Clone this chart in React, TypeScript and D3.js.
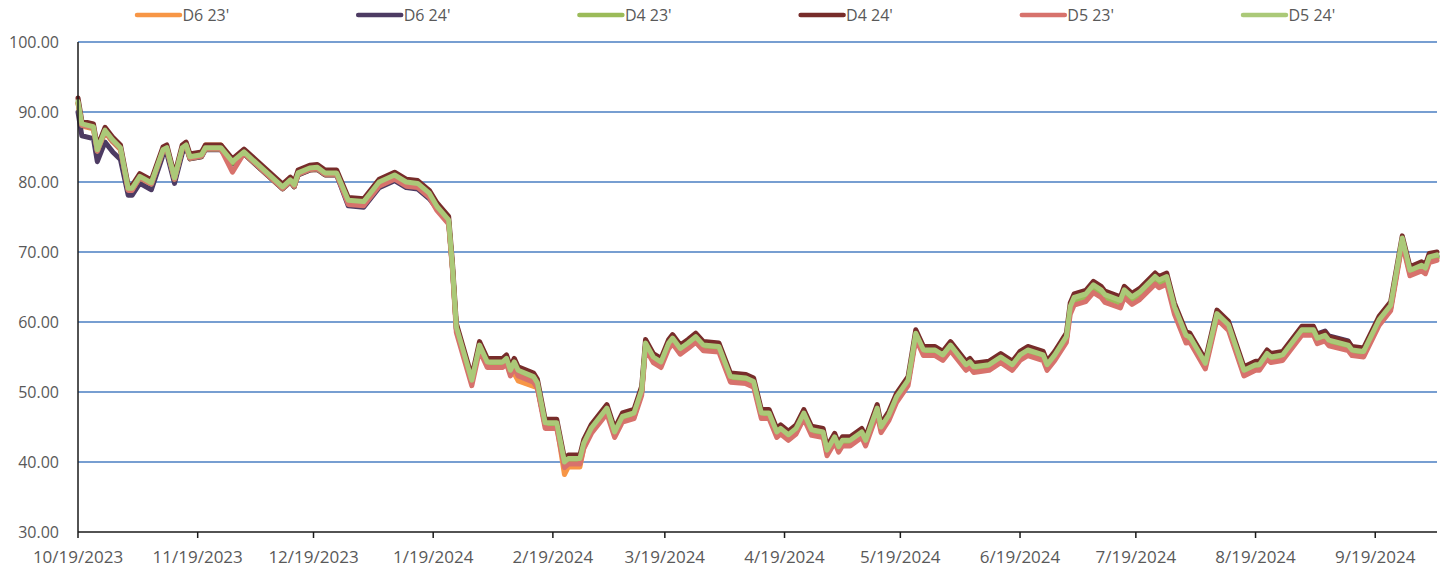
import React from 'react';
import * as d3 from 'd3';

// trading dates
const dates = [
  '2023-10-19', '2023-10-20', '2023-10-23', '2023-10-24', '2023-10-26', '2023-10-28', '2023-10-30', '2023-11-01', '2023-11-02', '2023-11-04',
  '2023-11-07', '2023-11-10', '2023-11-11', '2023-11-13', '2023-11-15', '2023-11-16', '2023-11-17', '2023-11-20', '2023-11-21', '2023-11-25',
  '2023-11-28', '2023-12-01', '2023-12-11', '2023-12-13', '2023-12-14', '2023-12-15', '2023-12-18', '2023-12-20', '2023-12-22', '2023-12-25',
  '2023-12-28', '2024-01-01', '2024-01-05', '2024-01-09', '2024-01-12', '2024-01-15', '2024-01-18', '2024-01-20', '2024-01-23', '2024-01-24',
  '2024-01-25', '2024-01-29', '2024-01-31', '2024-02-02', '2024-02-06', '2024-02-07', '2024-02-08', '2024-02-09', '2024-02-10', '2024-02-14',
  '2024-02-15', '2024-02-17', '2024-02-20', '2024-02-22', '2024-02-23', '2024-02-26', '2024-02-27', '2024-02-29', '2024-03-04', '2024-03-06',
  '2024-03-08', '2024-03-11', '2024-03-13', '2024-03-14', '2024-03-16', '2024-03-18', '2024-03-20', '2024-03-21', '2024-03-23', '2024-03-25',
  '2024-03-27', '2024-03-29', '2024-04-02', '2024-04-05', '2024-04-09', '2024-04-11', '2024-04-13', '2024-04-15', '2024-04-17', '2024-04-18',
  '2024-04-20', '2024-04-22', '2024-04-24', '2024-04-26', '2024-04-29', '2024-04-30', '2024-05-02', '2024-05-03', '2024-05-04', '2024-05-06',
  '2024-05-09', '2024-05-10', '2024-05-13', '2024-05-14', '2024-05-16', '2024-05-18', '2024-05-21', '2024-05-22', '2024-05-23', '2024-05-25',
  '2024-05-28', '2024-05-30', '2024-06-01', '2024-06-05', '2024-06-06', '2024-06-07', '2024-06-11', '2024-06-14', '2024-06-17', '2024-06-19',
  '2024-06-21', '2024-06-25', '2024-06-26', '2024-06-28', '2024-07-01', '2024-07-02', '2024-07-03', '2024-07-06', '2024-07-08', '2024-07-10',
  '2024-07-11', '2024-07-15', '2024-07-16', '2024-07-18', '2024-07-20', '2024-07-24', '2024-07-25', '2024-07-27', '2024-07-29', '2024-08-01',
  '2024-08-02', '2024-08-06', '2024-08-09', '2024-08-12', '2024-08-16', '2024-08-19', '2024-08-20', '2024-08-22', '2024-08-23', '2024-08-26',
  '2024-08-31', '2024-09-03', '2024-09-04', '2024-09-06', '2024-09-07', '2024-09-12', '2024-09-13', '2024-09-16', '2024-09-20', '2024-09-23',
  '2024-09-26', '2024-09-28', '2024-10-01', '2024-10-02', '2024-10-03', '2024-10-05',
];

const d6_23 = [
  91.2, 88.0, 87.6, 84.3, 87.1, 85.7, 84.6, 78.8, 78.8, 80.5,
  79.6, 84.3, 84.6, 80.3, 84.6, 85.0, 83.3, 83.6, 85.3, 85.3,
  82.6, 84.0, 79.0, 80.0, 79.3, 81.0, 81.7, 81.8, 81.0, 81.0,
  77.1, 76.9, 79.7, 80.7, 79.7, 79.5, 78.1, 76.2, 74.3, 67.6,
  59.0, 51.4, 56.4, 54.0, 54.0, 54.5, 52.8, 52.6, 51.6, 50.8,
  50.6, 45.3, 45.3, 38.2, 39.3, 39.3, 42.0, 44.4, 47.4, 44.0,
  46.2, 46.7, 50.0, 56.7, 54.7, 54.0, 56.7, 57.4, 55.9, 56.7,
  57.6, 56.4, 56.2, 51.9, 51.7, 51.2, 46.7, 46.7, 44.0, 44.5,
  43.6, 44.5, 46.7, 44.3, 44.0, 41.4, 43.3, 41.9, 42.6, 42.6,
  43.8, 42.7, 47.4, 44.7, 46.4, 49.0, 51.4, 54.7, 58.1, 55.6,
  55.6, 54.9, 56.3, 53.5, 53.9, 53.2, 53.5, 54.6, 53.5, 54.9,
  55.6, 54.9, 53.5, 54.9, 57.5, 61.8, 63.1, 63.6, 64.9, 64.2,
  63.5, 62.7, 64.2, 63.2, 63.9, 66.1, 65.6, 66.1, 61.8, 57.7,
  57.5, 53.7, 60.8, 59.2, 52.6, 53.3, 53.3, 54.9, 54.4, 54.7,
  58.3, 58.3, 57.1, 57.5, 56.8, 56.1, 55.4, 55.2, 59.8, 61.9,
  71.5, 66.9, 67.6, 67.2, 68.8, 69.1,
];

const d6_24 = [
  90.0, 86.6, 86.2, 82.9, 85.7, 84.3, 83.2, 78.1, 78.1, 79.8,
  78.9, 83.8, 84.1, 79.8, 84.1, 85.0, 83.3, 83.6, 84.6, 84.6,
  82.6, 84.0, 79.0, 80.0, 79.3, 81.0, 81.7, 81.8, 81.0, 81.0,
  76.6, 76.4, 79.2, 80.2, 79.2, 79.0, 77.6, 76.2, 74.3, 67.6,
  59.0, 51.4, 56.4, 54.0, 54.0, 54.5, 52.8, 54.0, 52.5, 51.6,
  50.7, 45.3, 45.3, 39.7, 40.2, 40.2, 42.4, 44.6, 47.4, 44.0,
  45.9, 46.4, 50.0, 56.7, 54.7, 54.0, 56.7, 57.4, 55.9, 56.7,
  57.6, 56.4, 56.2, 51.9, 51.7, 51.2, 46.7, 46.7, 44.0, 44.5,
  43.6, 44.5, 46.7, 44.3, 44.0, 41.4, 43.3, 41.9, 42.8, 42.8,
  44.0, 42.8, 47.4, 44.7, 46.4, 49.0, 51.4, 54.7, 58.1, 55.7,
  55.7, 55.0, 56.4, 53.6, 54.0, 53.3, 53.6, 54.7, 53.6, 55.0,
  55.7, 55.0, 53.6, 55.0, 57.6, 61.9, 63.2, 63.7, 65.0, 64.3,
  63.6, 62.8, 64.3, 63.3, 64.0, 66.2, 65.7, 66.2, 61.9, 57.8,
  57.6, 53.8, 60.9, 59.3, 52.8, 53.6, 53.6, 55.2, 54.7, 55.0,
  58.6, 58.6, 58.3, 58.7, 58.0, 57.3, 56.3, 55.5, 60.0, 62.1,
  71.7, 67.1, 67.8, 67.4, 69.0, 69.4,
];

const d4_23 = [
  91.3, 88.1, 87.7, 84.4, 87.2, 85.8, 84.7, 78.9, 78.9, 80.6,
  79.7, 84.4, 84.7, 80.4, 84.7, 85.1, 83.4, 83.7, 84.7, 84.7,
  82.7, 84.1, 79.1, 80.1, 79.4, 81.1, 81.8, 81.9, 81.1, 81.1,
  77.2, 77.0, 79.8, 80.8, 79.8, 79.6, 78.2, 76.3, 74.4, 67.7,
  59.1, 51.5, 56.5, 54.1, 54.1, 54.6, 52.9, 54.1, 52.9, 52.0,
  50.9, 45.2, 45.2, 39.6, 40.1, 40.1, 42.3, 44.5, 47.3, 43.9,
  46.1, 46.6, 49.9, 56.6, 54.6, 53.9, 56.6, 57.3, 55.8, 56.6,
  57.5, 56.3, 56.1, 51.8, 51.6, 51.1, 46.6, 46.6, 43.9, 44.4,
  43.5, 44.4, 46.6, 44.2, 43.9, 41.3, 43.2, 41.8, 42.7, 42.7,
  43.9, 42.7, 47.3, 44.6, 46.3, 48.9, 51.3, 54.6, 58.0, 55.6,
  55.6, 54.9, 56.3, 53.5, 53.9, 53.2, 53.5, 54.6, 53.5, 54.9,
  55.6, 54.9, 53.5, 54.9, 57.5, 61.8, 63.1, 63.6, 64.9, 64.2,
  63.5, 62.7, 64.2, 63.2, 63.9, 66.1, 65.6, 66.1, 61.8, 57.7,
  57.5, 53.7, 60.8, 59.2, 52.7, 53.5, 53.5, 55.1, 54.6, 54.9,
  58.5, 58.5, 57.3, 57.7, 57.0, 56.3, 55.6, 55.4, 59.9, 62.0,
  71.6, 67.0, 67.7, 67.3, 68.9, 69.2,
];

const d4_24 = [
  92.0, 88.7, 88.3, 85.0, 87.8, 86.4, 85.3, 79.5, 79.5, 81.2,
  80.3, 85.0, 85.3, 81.0, 85.3, 85.7, 84.0, 84.3, 85.3, 85.3,
  83.3, 84.7, 79.7, 80.7, 80.0, 81.7, 82.4, 82.5, 81.7, 81.7,
  77.8, 77.6, 80.4, 81.4, 80.4, 80.2, 78.8, 77.0, 75.1, 68.4,
  59.8, 52.2, 57.2, 54.8, 54.8, 55.3, 53.6, 54.8, 53.6, 52.7,
  51.8, 46.1, 46.1, 40.5, 41.0, 41.0, 43.2, 45.4, 48.2, 44.8,
  47.0, 47.5, 50.8, 57.5, 55.5, 54.8, 57.5, 58.2, 56.7, 57.5,
  58.4, 57.2, 57.0, 52.7, 52.5, 52.0, 47.5, 47.5, 44.8, 45.3,
  44.4, 45.3, 47.5, 45.1, 44.8, 42.2, 44.1, 42.7, 43.6, 43.6,
  44.8, 43.6, 48.2, 45.5, 47.2, 49.8, 52.2, 55.5, 58.9, 56.5,
  56.5, 55.8, 57.2, 54.4, 54.8, 54.1, 54.4, 55.5, 54.4, 55.8,
  56.5, 55.8, 54.4, 55.8, 58.4, 62.7, 64.0, 64.5, 65.8, 65.1,
  64.4, 63.6, 65.1, 64.1, 64.8, 67.0, 66.5, 67.0, 62.7, 58.6,
  58.4, 54.6, 61.7, 60.1, 53.6, 54.4, 54.4, 56.0, 55.5, 55.8,
  59.4, 59.4, 58.2, 58.6, 57.9, 57.2, 56.5, 56.3, 60.8, 62.9,
  72.3, 67.9, 68.6, 68.2, 69.8, 70.0,
];

const d5_23 = [
  91.3, 88.1, 87.7, 84.4, 87.2, 85.8, 84.7, 78.8, 78.8, 80.6,
  79.7, 84.4, 84.7, 80.4, 84.7, 85.1, 83.4, 83.7, 84.7, 84.7,
  81.4, 84.1, 79.1, 80.1, 79.4, 81.1, 81.8, 81.9, 81.1, 81.1,
  76.8, 76.6, 79.4, 80.4, 79.4, 79.2, 77.8, 75.9, 74.0, 67.3,
  58.5, 50.9, 55.9, 53.5, 53.5, 54.0, 52.3, 53.5, 52.3, 51.4,
  50.5, 44.8, 44.8, 39.2, 39.7, 39.7, 41.9, 44.1, 46.9, 43.5,
  45.7, 46.2, 49.5, 56.2, 54.2, 53.5, 56.2, 56.9, 55.4, 56.2,
  57.1, 55.9, 55.7, 51.4, 51.2, 50.7, 46.2, 46.2, 43.5, 44.0,
  43.1, 44.0, 46.2, 43.8, 43.5, 40.9, 42.8, 41.4, 42.3, 42.3,
  43.5, 42.3, 46.9, 44.2, 45.9, 48.5, 50.9, 54.2, 57.6, 55.2,
  55.2, 54.5, 55.9, 53.1, 53.5, 52.8, 53.1, 54.2, 53.1, 54.5,
  55.2, 54.5, 53.1, 54.5, 57.1, 61.1, 62.4, 62.9, 64.2, 63.5,
  62.8, 62.0, 63.5, 62.5, 63.2, 65.4, 64.9, 65.4, 61.1, 57.0,
  57.1, 53.3, 60.4, 58.8, 52.3, 53.1, 53.1, 54.7, 54.2, 54.5,
  58.1, 58.1, 56.9, 57.3, 56.6, 55.9, 55.2, 55.0, 59.5, 61.6,
  71.2, 66.6, 67.3, 66.9, 68.5, 68.8,
];

const d5_24 = [
  91.5, 88.3, 87.9, 84.6, 87.4, 86.0, 84.9, 79.1, 79.1, 80.8,
  79.9, 84.6, 84.9, 80.6, 84.9, 85.3, 83.6, 83.9, 84.9, 84.9,
  82.9, 84.3, 79.3, 80.3, 79.6, 81.3, 82.0, 82.1, 81.3, 81.3,
  77.4, 77.2, 80.0, 81.0, 80.0, 79.8, 78.4, 76.5, 74.6, 67.9,
  59.3, 51.7, 56.7, 54.3, 54.3, 54.8, 53.1, 54.3, 53.1, 52.2,
  51.3, 45.6, 45.6, 40.0, 40.5, 40.5, 42.7, 44.9, 47.7, 44.3,
  46.5, 47.0, 50.3, 57.0, 55.0, 54.3, 57.0, 57.7, 56.2, 57.0,
  57.9, 56.7, 56.5, 52.2, 52.0, 51.5, 47.0, 47.0, 44.3, 44.8,
  43.9, 44.8, 47.0, 44.6, 44.3, 41.7, 43.6, 42.2, 43.1, 43.1,
  44.3, 43.1, 47.7, 45.0, 46.7, 49.3, 51.7, 55.0, 58.4, 56.0,
  56.0, 55.3, 56.7, 53.9, 54.3, 53.6, 53.9, 55.0, 53.9, 55.3,
  56.0, 55.3, 53.9, 55.3, 57.9, 62.2, 63.5, 64.0, 65.3, 64.6,
  63.9, 63.1, 64.6, 63.6, 64.3, 66.5, 66.0, 66.5, 62.2, 58.1,
  57.9, 54.1, 61.2, 59.6, 53.1, 53.9, 53.9, 55.5, 55.0, 55.3,
  58.9, 58.9, 57.7, 58.1, 57.4, 56.7, 56.0, 55.8, 60.3, 62.4,
  72.0, 67.4, 68.1, 67.7, 69.3, 69.6,
];

const seriesNames = ["D6 23'", "D6 24'", "D4 23'", "D4 24'", "D5 23'", "D5 24'"];
const seriesColors = ['#F79646', '#4D3B63', '#9BBB59', '#772C2A', '#D7726C', '#ABC978'];
const seriesValues = [d6_23, d6_24, d4_23, d4_24, d5_23, d5_24];

const xTickLabels = [
  '10/19/2023', '11/19/2023', '12/19/2023', '1/19/2024', '2/19/2024', '3/19/2024',
  '4/19/2024', '5/19/2024', '6/19/2024', '7/19/2024', '8/19/2024', '9/19/2024',
];
const yTicks = [30, 40, 50, 60, 70, 80, 90, 100];

const W = 1445;
const H = 569;
const left = 78;
const right = 1437;
const top = 42;
const bottom = 532;
const font = '"Open Sans", sans-serif';

const parseIso = d3.timeParse('%Y-%m-%d');
const parseLabel = d3.timeParse('%m/%d/%Y');

export default function App() {
  const parsedDates = dates.map((d) => parseIso(d) as Date);
  const x = d3
    .scaleTime()
    .domain([parseIso('2023-10-19') as Date, parseIso('2024-10-05') as Date])
    .range([left, right]);
  const y = d3.scaleLinear().domain([30, 100]).range([bottom, top]);

  const line = d3
    .line<number>()
    .x((_, i) => x(parsedDates[i]))
    .y((v) => y(v));

  return (
    <svg width={W} height={H} style={{ position: 'absolute', left: 0, top: 0, background: '#fff' }}>
      {/* gridlines */}
      {yTicks.filter((t) => t > 30).map((t) => (
        <line key={t} x1={left} x2={right} y1={y(t)} y2={y(t)} stroke="#4A7EC2" strokeWidth={1.5} />
      ))}
      {/* y labels */}
      {yTicks.map((t) => (
        <text key={t} x={59} y={y(t)} dy="0.35em" textAnchor="end" fontFamily={font} fontSize={16} fill="#595959">
          {t.toFixed(2)}
        </text>
      ))}
      {/* series */}
      {seriesValues.map((vals, i) => (
        <path
          key={seriesNames[i]}
          d={line(vals) || ''}
          fill="none"
          stroke={seriesColors[i]}
          strokeWidth={5}
          strokeLinejoin="round"
          strokeLinecap="round"
        />
      ))}
      {/* axes */}
      <line x1={left} x2={left} y1={top} y2={bottom} stroke="#1a1a1a" strokeWidth={1.5} />
      <line x1={left} x2={right} y1={bottom} y2={bottom} stroke="#1a1a1a" strokeWidth={1.5} />
      {xTickLabels.map((lab) => {
        const xp = x(parseLabel(lab) as Date);
        return (
          <g key={lab}>
            <line x1={xp} x2={xp} y1={bottom} y2={bottom + 6} stroke="#1a1a1a" strokeWidth={1.5} />
            <text x={xp} y={557} dy="0.35em" textAnchor="middle" fontFamily={font} fontSize={17} fill="#595959">
              {lab}
            </text>
          </g>
        );
      })}
      {/* legend */}
      {seriesNames.map((name, i) => {
        const lx = 137 + i * 221.2;
        return (
          <g key={name}>
            <line x1={lx} x2={lx + 43} y1={15} y2={15} stroke={seriesColors[i]} strokeWidth={4.5} strokeLinecap="round" />
            <text x={lx + 45.5} y={15} dy="0.35em" fontFamily={font} fontSize={16} fill="#595959">
              {name}
            </text>
          </g>
        );
      })}
    </svg>
  );
}
